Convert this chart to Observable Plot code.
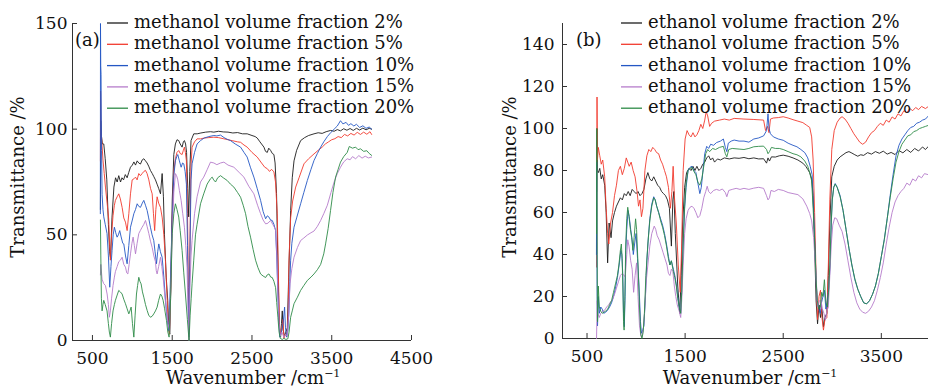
<!DOCTYPE html>
<html><head><meta charset="utf-8">
<script src="https://cdn.jsdelivr.net/npm/d3@7"></script>
<script src="https://cdn.jsdelivr.net/npm/@observablehq/plot@0.6"></script>
<style>
body{margin:0;background:#fff;}
#wrap{display:flex;width:928px;height:391px;overflow:hidden;background:#fff;}
</style></head><body><div id="wrap"></div>
<script>
// ---- Panel (a): methanol ----
const methanolLabels = ["methanol volume fraction 2%","methanol volume fraction 5%","methanol volume fraction 10%","methanol volume fraction 15%","methanol volume fraction 20%"];
const m2 = [[600,62],[604,104],[612,97],[625,93],[642,93],[660,86],[680,76],[700,55],[715,42],[727,39],[745,58],[769,72.6],[790,77],[810,75],[830,78],[852,75],[870,77],[890,76],[912,78.5],[935,77],[955,79.5],[977,82],[1000,83],[1020,84.5],[1040,83],[1061,85],[1080,84],[1102,83.5],[1125,85.5],[1145,86],[1165,85],[1185,84],[1205,82.5],[1227,80.5],[1250,79],[1270,77.5],[1290,76],[1310,74],[1330,72],[1353,69.4],[1374,79],[1390,68],[1403,50],[1425,30],[1444,19],[1458,5],[1470,3],[1485,30],[1500,66],[1520,88],[1540,93],[1560,95],[1582,94.6],[1600,93],[1624,91.5],[1640,94],[1653,94.6],[1668,93],[1680,89],[1695,72],[1707,58.5],[1720,80],[1736,94.6],[1770,97.8],[1813,97.8],[1860,98.2],[1920,98.6],[1980,98.8],[2022,98.6],[2080,99],[2140,98.7],[2200,98.6],[2260,98.2],[2320,98.4],[2380,97.8],[2440,97.8],[2500,97],[2540,96.5],[2566,95.8],[2600,94],[2630,92.5],[2650,91.5],[2670,89.5],[2692,89],[2710,91],[2733,90],[2755,88.5],[2775,88],[2790,84],[2808,69.5],[2823,40],[2838,14],[2850,3],[2859,1.6],[2870,8],[2880,14],[2890,5],[2909,2],[2925,4],[2943,6],[2960,30],[2985,61.5],[3005,77],[3027,85],[3060,90],[3110,94.6],[3160,96],[3210,97],[3278,97.8],[3330,98.3],[3380,98],[3430,98.8],[3487,99.4],[3530,99],[3570,99.8],[3610,99.2],[3650,100.2],[3690,99.5],[3730,100.3],[3770,99.4],[3810,100.4],[3850,99.6],[3890,100.5],[3930,99.7],[3970,100.4],[4000,100]];
const m5 = [[600,85],[602,118],[608,100],[621,92],[633,85],[648,79],[663,72.6],[684,65],[704,57.5],[715,45],[725,38],[740,50],[758,59],[775,64],[788,66.3],[810,68],[830,69.4],[850,67],[872,63],[893,58],[914,56],[935,52],[956,60],[977,69.4],[998,76],[1020,76.5],[1040,77.3],[1060,76],[1081,79],[1102,78],[1123,79],[1145,80],[1165,80.5],[1185,79],[1207,76],[1228,72],[1249,69.4],[1265,60],[1280,52],[1295,62],[1311,68],[1330,65],[1353,63],[1375,58],[1395,50],[1415,38],[1437,19],[1452,8],[1465,3],[1482,25],[1500,58],[1520,80],[1540,86],[1560,89],[1582,89.9],[1600,88.5],[1624,88],[1640,90],[1653,91.5],[1665,89],[1678,85],[1692,60],[1703,25],[1711,3],[1720,40],[1735,82],[1749,91.5],[1780,94],[1812,95.4],[1855,95.4],[1900,95.8],[1960,96],[2022,96.2],[2080,96],[2140,95.5],[2200,95],[2260,94.5],[2320,94],[2357,93.8],[2400,92.5],[2440,91.5],[2500,89],[2566,86.8],[2620,84],[2660,82],[2692,81.3],[2720,80],[2745,81],[2775,79.8],[2795,75],[2817,60],[2832,30],[2846,6],[2860,3],[2875,6],[2890,10],[2900,1],[2920,3],[2943,4],[2955,15],[2964,38],[2985,58],[3010,66],[3048,72.6],[3090,77],[3152,83.6],[3210,86],[3278,88.3],[3330,90],[3380,91.5],[3420,93],[3460,94],[3500,95],[3540,95.5],[3580,96.5],[3620,96],[3660,97.5],[3700,96.8],[3740,98],[3780,97.2],[3820,98.5],[3860,97.5],[3900,98.6],[3940,97.6],[3980,98.8],[4000,97.5]];
const m10 = [[599,60],[601,150],[604,130],[608,126],[614,90],[621,69],[632,62],[642,58.5],[660,55],[683,50.6],[700,40],[717,25.2],[732,35],[746,42.6],[760,50],[775,53.6],[792,51],[809,48.9],[825,50],[842,52],[860,49],[880,46],[893,45.7],[915,40],[935,36.3],[956,45],[977,53.6],[1000,57],[1019,60],[1040,62],[1061,64.7],[1080,63.5],[1102,63],[1125,65],[1144,66.3],[1165,64],[1186,61.5],[1205,58],[1227,53.6],[1248,50],[1269,47.3],[1285,42],[1303,36.3],[1318,42],[1332,45.7],[1352,42],[1374,39.4],[1395,30],[1416,19],[1437,10],[1457,4.7],[1475,25],[1500,58],[1520,78],[1540,85],[1557,87],[1570,88],[1590,85],[1612,82],[1630,84],[1645,83.6],[1662,80],[1678,74],[1692,45],[1703,15],[1711,1.6],[1722,40],[1736,76],[1749,83.6],[1780,89],[1812,93],[1855,94.6],[1900,95.8],[1960,96.5],[2022,97],[2060,96.8],[2106,97.2],[2150,96],[2190,95.2],[2231,94.6],[2290,93],[2357,91.5],[2400,89],[2440,86.8],[2480,82],[2524,77.3],[2565,72],[2608,66.3],[2640,61],[2671,57.6],[2692,59],[2713,58.4],[2733,57],[2754,56.8],[2775,55],[2796,52],[2810,40],[2825,22],[2838,8],[2850,1.6],[2870,4],[2890,8],[2909,15.8],[2920,6],[2935,1.6],[2950,5],[2964,14],[2975,28],[2985,38],[3000,46],[3027,53.6],[3060,58],[3110,64.7],[3150,70],[3194,75.7],[3240,81],[3278,85.2],[3320,88.5],[3361,91.5],[3400,94],[3445,96.5],[3490,98.5],[3530,100],[3570,101.5],[3610,104],[3640,102.5],[3680,103.2],[3710,101.8],[3740,102.6],[3777,101.5],[3810,102.3],[3850,100.8],[3890,101.6],[3930,100.4],[3970,101],[4000,100]];
const m15 = [[600,31],[605,36],[621,29],[640,27],[663,26],[684,22],[700,17],[712,11],[725,14],[740,20],[758,26],[775,30],[788,32.6],[810,35],[830,37.3],[850,38],[872,39.4],[893,36],[914,34.7],[930,32],[944,31.5],[960,36],[977,41],[995,46],[1010,48.9],[1025,45],[1040,41],[1060,46],[1081,50.6],[1100,52],[1123,53.6],[1145,55],[1165,56.8],[1185,54],[1207,50.6],[1228,47],[1249,44],[1270,40],[1290,37.3],[1300,33],[1311,31.5],[1330,35],[1353,39.4],[1370,35],[1386,29.9],[1405,22],[1428,14.2],[1448,8],[1465,4.7],[1482,25],[1500,50.6],[1520,70],[1540,79],[1555,78],[1570,76],[1590,71],[1612,66.3],[1632,60],[1653,53.6],[1670,45],[1686,34.7],[1700,12],[1711,0],[1722,25],[1736,40],[1749,47.3],[1780,60],[1812,68],[1855,75],[1895,77.3],[1940,81],[1980,84.4],[2022,84],[2060,83.2],[2106,84],[2148,84.4],[2200,83],[2273,82],[2340,79.5],[2399,77.3],[2460,73],[2524,69.4],[2570,64],[2608,60],[2640,57],[2671,55.2],[2700,55.5],[2733,56.8],[2760,55],[2796,52.6],[2812,40],[2825,22],[2840,8],[2855,2],[2875,4],[2900,1.5],[2920,3],[2943,2],[2960,12],[2977,26.8],[3000,34],[3027,39.4],[3070,44],[3110,47.3],[3150,48.5],[3194,49.9],[3240,51],[3278,51.8],[3320,54],[3361,56.8],[3400,60],[3445,64],[3490,70],[3530,75],[3570,79],[3610,82],[3650,84.5],[3694,86],[3730,85.5],[3760,87],[3800,86],[3840,87.5],[3880,86.3],[3920,87.2],[3960,86.4],[4000,86.8]];
const m20 = [[600,57],[605,40],[612,20],[621,14],[632,17],[642,19],[660,17],[683,14],[700,8],[712,4],[725,1.6],[740,8],[758,14],[775,17],[788,19],[810,21.5],[830,23.7],[850,23],[872,22],[893,19.5],[914,17.4],[935,15],[956,12.6],[970,14],[985,15.8],[1002,8],[1019,1.6],[1035,12],[1052,22],[1066,26],[1081,29.9],[1095,28],[1110,26.8],[1127,23],[1144,20.5],[1165,17],[1186,14.2],[1205,12],[1227,11],[1249,11.5],[1269,12.6],[1290,14],[1311,15.8],[1330,19],[1353,22],[1370,21],[1386,19],[1405,15],[1428,9.5],[1445,4],[1461,1.6],[1480,20],[1500,50.6],[1520,60],[1540,64.7],[1560,62],[1582,58.4],[1600,52],[1624,42.6],[1645,32],[1666,22],[1690,10],[1711,0],[1725,12],[1738,20],[1749,26.8],[1770,38],[1792,50],[1812,55],[1855,64.7],[1895,69.4],[1938,74],[1979,76.5],[2001,77.3],[2020,76],[2043,75],[2070,77],[2106,78],[2140,77],[2190,75.7],[2230,74],[2273,72.6],[2320,70],[2357,67.8],[2390,64],[2420,60],[2450,54],[2482,48.9],[2515,43],[2545,38],[2575,34.5],[2608,31.5],[2640,30.5],[2671,29.8],[2690,31],[2713,31.5],[2735,30],[2754,29.8],[2775,28],[2796,25],[2810,18],[2825,11],[2840,4],[2855,1],[2880,0.5],[2900,1],[2925,0.5],[2950,0.8],[2965,4],[2985,11],[3005,14],[3027,17.4],[3070,20.5],[3110,23.7],[3150,26],[3194,28.4],[3240,30],[3278,31.5],[3320,33.5],[3361,36],[3400,41],[3423,45.7],[3455,53],[3485,61.5],[3515,70],[3548,77.3],[3580,81],[3610,84.4],[3650,87],[3694,89],[3720,91.8],[3760,91],[3800,91.5],[3830,90.3],[3861,90.7],[3900,89.5],[3940,89.8],[3970,88.5],[4000,87.6]];

// ---- Panel (b): ethanol ----
const ethanolLabels = ["ethanol volume fraction 2%","ethanol volume fraction 5%","ethanol volume fraction 10%","ethanol volume fraction 15%","ethanol volume fraction 20%"];
const e2 = [[598,70],[602,100],[606,80],[615,79],[630,81],[645,76],[660,78],[680,73],[695,60],[710,36],[725,55],[745,48],[760,56],[780,60],[800,63],[820,65],[840,67],[860,66],[880,69],[900,68],[920,70],[940,68],[960,71],[980,70],[1000,69],[1020,70],[1040,68],[1060,69],[1080,71],[1100,76],[1120,79],[1140,76],[1160,75],[1180,77],[1200,75],[1220,73],[1240,72],[1260,70],[1280,69],[1300,68],[1320,66],[1340,62],[1360,44],[1375,66],[1385,70],[1400,50],[1425,25],[1445,12],[1460,30],[1475,55],[1495,72],[1515,79],[1540,81],[1560,80],[1580,82],[1600,80],[1620,82],[1640,80],[1660,81],[1680,83],[1700,84],[1720,86],[1740,87],[1760,85],[1780,86],[1800,84],[1830,85.5],[1860,85],[1900,86],[1950,85.5],[2000,86],[2050,85.8],[2100,86.2],[2150,85.6],[2200,86],[2250,85.5],[2300,85.6],[2330,83.5],[2345,86],[2360,84.5],[2380,86.5],[2420,86.4],[2460,87],[2500,87.3],[2550,86.8],[2600,86],[2650,85],[2700,83.5],[2730,82],[2750,80.5],[2770,79],[2790,76],[2805,68],[2820,45],[2835,18],[2850,7],[2865,16],[2880,10],[2895,14],[2910,5.5],[2925,10],[2945,12],[2960,30],[2975,55],[2995,77],[3020,82],[3050,85],[3080,86.5],[3110,87.5],[3140,88.5],[3170,89],[3200,88.3],[3230,87.5],[3260,86.8],[3290,87.5],[3320,87.2],[3360,88.5],[3400,87.8],[3440,89],[3480,88.2],[3520,89.2],[3560,87.8],[3600,88.6],[3640,87.6],[3680,89.5],[3720,88.4],[3760,90],[3800,88.6],[3840,90.5],[3880,89.3],[3920,91.2],[3950,90],[3980,91.5]];
const e5 = [[598,34],[602,115],[606,85],[615,91],[630,87],[645,83],[660,85],[680,77],[695,62],[710,50],[722,45],[740,55],[760,60],[780,68],[800,73],[820,80],[840,82],[860,78],[880,81],[900,86],[915,84],[930,82],[950,84],[970,80],[990,77],[1010,70],[1025,63],[1040,66],[1055,58],[1070,62],[1090,80],[1110,87],[1130,90],[1150,89],[1170,91],[1190,90],[1210,88.5],[1230,88],[1250,85],[1270,83],[1290,80],[1310,77],[1330,72],[1350,62],[1365,70],[1378,82],[1390,68],[1410,55],[1430,35],[1450,22],[1465,45],[1480,80],[1500,95],[1520,99],[1540,97],[1560,96],[1580,98],[1600,96],[1620,97],[1640,99],[1660,102],[1680,100],[1700,104],[1715,108],[1730,106],[1750,101],[1770,102.5],[1800,103.5],[1850,104],[1900,104.5],[1950,104],[2000,104.8],[2100,104.5],[2200,104.3],[2300,104],[2320,99],[2340,101],[2355,98],[2370,104.5],[2400,105],[2450,105.2],[2500,105.6],[2550,105],[2600,104.2],[2650,103.5],[2700,102.8],[2740,101.5],[2770,100.5],[2790,96],[2805,85],[2820,60],[2835,30],[2850,9],[2865,20],[2880,23],[2895,10],[2910,4],[2925,9],[2945,10],[2960,35],[2975,66],[2995,90],[3020,99],[3050,103],[3080,105],[3100,105.6],[3130,104.5],[3160,102.5],[3190,100],[3220,97.5],[3250,95.5],[3280,93.5],[3310,92.5],[3340,93.5],[3370,96],[3400,98],[3430,99],[3460,101],[3490,102.5],[3520,101.5],[3550,104],[3580,103],[3610,105.5],[3640,104.5],[3670,107],[3700,106],[3730,108.5],[3760,107.5],[3790,109.5],[3820,108.5],[3850,110],[3880,109],[3910,110.5],[3950,109.5],[3980,110.5]];
const e10 = [[596,40],[599,84],[603,20],[607,6],[615,20],[625,12],[640,15],[655,14],[670,12],[690,12.5],[710,13.5],[730,15],[750,17],[770,20],[790,24],[810,29],[830,36],[845,42],[855,40],[865,30],[872,12],[880,5.6],[888,20],[895,42],[905,52],[918,61],[930,58],[945,52],[960,47],[972,40],[985,45],[1000,50],[1015,38],[1030,25],[1045,8],[1055,2.5],[1068,4],[1080,6],[1095,20],[1110,37],[1125,48],[1140,57],[1160,64],[1180,67.5],[1195,66],[1210,63],[1230,60],[1250,57],[1270,54],[1290,50],[1310,45],[1330,39],[1345,35],[1360,37],[1380,33],[1395,30],[1410,26],[1425,20],[1440,15],[1455,12],[1465,22],[1480,45],[1495,62],[1510,72],[1530,80],[1550,81.5],[1570,82],[1590,80],[1610,79],[1630,74],[1650,69],[1665,72],[1680,79],[1700,88],[1720,91.5],[1740,90.5],[1760,92.5],[1790,92],[1820,93.3],[1860,94],[1890,95],[1910,91],[1925,89],[1940,93],[1970,94],[2000,94.5],[2050,94],[2100,94],[2150,93.5],[2200,95],[2250,95.5],[2300,96.5],[2330,99],[2345,107],[2355,100],[2370,97.5],[2400,96],[2450,95],[2500,94.4],[2550,93],[2600,92],[2640,91.3],[2680,90],[2720,88.5],[2750,86],[2775,82],[2795,78],[2810,60],[2820,48],[2835,28],[2845,18],[2860,15],[2878,12],[2890,17],[2905,20],[2920,23],[2935,14],[2950,18],[2965,24],[2978,35],[2990,55],[3000,66],[3015,72],[3030,73.8],[3050,72],[3080,68],[3110,61],[3140,52],[3170,43],[3200,35],[3230,28],[3260,23.5],[3290,20],[3320,17],[3350,16.5],[3380,18],[3410,21],[3440,25],[3470,31],[3500,39],[3530,47],[3560,57],[3590,68],[3620,78],[3650,87],[3680,92],[3710,95],[3740,97],[3770,99],[3800,100.5],[3830,101],[3860,102.5],[3890,103],[3920,104],[3950,104.5],[3980,106]];
const e15 = [[597,0],[600,8],[604,18],[610,12],[625,10],[640,12],[660,13],[680,13.5],[700,15],[720,16],[740,17.5],[760,18.5],[780,21],[800,24],[820,27],[840,30],[860,31],[875,30],[890,29.5],[905,40],[915,47],[928,44],[945,37],[960,33],[975,22],[990,30],[1005,36],[1020,20],[1035,6],[1050,1],[1062,1],[1075,5],[1090,15],[1105,28],[1120,35],[1140,44],[1160,50],[1185,53.5],[1200,52],[1215,49],[1235,47],[1255,44],[1275,41],[1295,38],[1315,35],[1330,31],[1345,30],[1360,33],[1375,32],[1390,25],[1405,20],[1420,16],[1440,13],[1455,10],[1465,18],[1480,35],[1495,50],[1510,57],[1530,61],[1550,62.5],[1570,63],[1590,62],[1610,60],[1630,57.5],[1650,58.5],[1670,62],[1690,67],[1710,70],[1725,72.5],[1740,70],[1760,69],[1790,70.5],[1820,71],[1850,70.5],[1880,71.2],[1910,69.5],[1925,67.5],[1945,70.5],[1980,71],[2020,71.5],[2060,71],[2100,71.5],[2150,71],[2200,71.6],[2250,72],[2300,71.5],[2330,68],[2345,66],[2360,67],[2375,70.5],[2410,70],[2450,71],[2500,70.5],[2550,69.5],[2600,69],[2650,68.5],[2700,66.5],[2740,63],[2770,59.5],[2790,56],[2810,48],[2825,37],[2840,25],[2852,15],[2868,18],[2885,18],[2900,14],[2915,12],[2930,8.7],[2945,13],[2960,15],[2975,30],[2990,45],[3005,54],[3025,57.5],[3045,57],[3070,54],[3100,51],[3130,45],[3160,37],[3190,29],[3220,22],[3250,17],[3280,14],[3310,12.5],[3340,12],[3370,13],[3400,15],[3430,18],[3460,23],[3490,29],[3520,36],[3550,45],[3580,53],[3610,60],[3640,65],[3670,68],[3700,70],[3730,71.5],[3760,74],[3790,73],[3820,76],[3850,75],[3880,77.5],[3910,76.5],[3940,78.5],[3980,78]];
const e20 = [[597,50],[600,100],[603,40],[607,8],[615,25],[625,15],[640,13],[655,12],[670,12.5],[690,13],[710,14],[730,16],[750,18],[770,22],[790,26],[810,30],[825,35],[840,42],[850,45],[858,38],[865,25],[872,8],[878,4],[885,18],[895,45],[905,57],[915,62.5],[928,58],[942,52],[955,48],[968,42],[980,48],[995,57],[1005,52],[1020,35],[1035,15],[1048,2],[1060,0],[1072,3],[1085,12],[1100,30],[1120,45],[1140,56],[1160,63],[1180,67],[1195,66],[1210,63],[1230,60],[1250,56],[1270,53],[1290,49],[1310,44],[1330,38],[1345,35],[1360,37],[1380,32],[1395,29],[1410,25],[1425,19],[1440,15],[1455,12],[1465,22],[1480,45],[1495,63],[1510,74],[1530,80],[1550,81],[1570,81.5],[1590,79.5],[1610,78],[1630,74.5],[1650,73],[1670,76],[1690,82],[1710,88],[1730,90],[1750,89],[1780,90.5],[1810,90],[1850,91],[1890,91.5],[1910,88],[1925,86.5],[1945,90],[1980,90.5],[2050,90.2],[2100,90],[2150,90.5],[2200,91.3],[2250,91.5],[2300,91.6],[2330,90],[2345,88],[2360,89],[2380,91],[2420,90.5],[2460,90.5],[2500,90],[2550,89],[2600,88],[2640,87.5],[2680,86.5],[2720,84.5],[2750,82],[2770,79],[2790,75],[2805,62],[2820,47],[2835,28],[2848,18],[2862,14],[2878,15],[2892,22],[2905,20],[2920,28],[2935,17],[2950,15],[2962,22],[2975,35],[2990,56],[3000,66],[3015,72],[3030,73.5],[3050,72],[3080,67.5],[3110,61],[3140,52],[3170,43],[3200,35],[3230,28.5],[3260,23.5],[3290,20],[3320,17],[3350,16.5],[3380,18],[3410,21],[3440,25],[3470,31],[3500,39],[3530,47],[3560,57],[3590,67],[3620,76],[3650,84],[3680,89],[3710,92.5],[3740,94.5],[3770,96.5],[3800,97],[3830,98.5],[3860,99],[3890,100],[3920,100.5],[3950,101],[3980,101.5]];

const xTicksA = [500,1500,2500,3500,4500];
const yTicksA = [0,50,100,150];
const xTicksB = [500,1500,2500,3500];
const yTicksB = [0,20,40,60,80,100,120,140];
const seriesColors = ["#1c1c1c","#f23a2e","#2457c4","#b67ccb","#2e8b47"];

function panel(cfg) {
  const H = 391;
  const plotW = cfg.width - cfg.ml - cfg.mr;
  const plotH = H - cfg.mt - cfg.mb;
  const marks = [
    Plot.ruleY([0], {stroke: "#333", strokeWidth: 1}),
    Plot.ruleX([cfg.xDomain[0]], {y1: 0, y2: 150, stroke: "#333", strokeWidth: 1}),
    Plot.tickX(cfg.xTicks, {x: d => d, insetTop: plotH - 5, stroke: "#333"}),
    Plot.tickY(cfg.yTicks, {y: d => d, insetRight: plotW - 5, stroke: "#333"}),
    Plot.axisX({ticks: cfg.xTicks, tickSize: 0, tickPadding: 11, label: null, tickFormat: d => String(d), fill: "#111"}),
    Plot.axisY({ticks: cfg.yTicks, tickSize: 0, tickPadding: cfg.ypad, label: null, tickFormat: d => String(d), fill: "#111"})
  ];
  cfg.series.forEach((s, i) => {
    marks.push(Plot.line(s, {x: d => d[0], y: d => d[1], stroke: seriesColors[i], strokeWidth: 0.9, curve: "linear"}));
  });
  const svg = Plot.plot({
    width: cfg.width, height: H,
    marginLeft: cfg.ml, marginRight: cfg.mr, marginTop: cfg.mt, marginBottom: cfg.mb,
    x: {domain: cfg.xDomain}, y: {domain: [0, 150]},
    style: {fontFamily: "DejaVu Serif", fontSize: "17px", background: "white", color: "#111"},
    marks
  });
  const s = d3.select(svg);
  const g = s.append("g").attr("font-family", "DejaVu Serif").attr("fill", "#111");
  // panel tag
  g.append("text").attr("x", cfg.tagX).attr("y", 46).attr("font-size", 18).attr("text-anchor", "start").text(cfg.tag);
  // legend
  cfg.labels.forEach((lab, i) => {
    const yb = 28 + i * 21.3;
    g.append("line").attr("x1", cfg.legX).attr("x2", cfg.legX + 21).attr("y1", yb - 5).attr("y2", yb - 5)
      .attr("stroke", seriesColors[i]).attr("stroke-width", 1.3);
    g.append("text").attr("x", cfg.legX + 27).attr("y", yb).attr("font-size", 18).attr("text-anchor", "start").text(lab);
  });
  // y title
  g.append("text").attr("transform", `translate(${cfg.yTitleX},177) rotate(-90)`).attr("text-anchor", "middle")
    .attr("font-size", 18).text("Transmittance /%");
  // x title
  const xt = g.append("text").attr("x", cfg.xTitleX).attr("y", 384).attr("text-anchor", "middle")
    .attr("font-size", 18);
  xt.append("tspan").text("Wavenumber /cm");
  xt.append("tspan").attr("dy", -7).attr("font-size", 11).text("−1");
  return svg;
}

const wrap = document.getElementById("wrap");
wrap.appendChild(panel({
  width: 464, ml: 72, mr: 53, mt: 23, mb: 51, ypad: 5,
  xDomain: [250, 4500], xTicks: xTicksA, yTicks: yTicksA,
  series: [m2, m5, m10, m15, m20], labels: methanolLabels,
  tag: "(a)", tagX: 75, legX: 107, yTitleX: 24, xTitleX: 253
}));
wrap.appendChild(panel({
  width: 464, ml: 98, mr: 0, mt: 23, mb: 53, ypad: 8,
  xDomain: [250, 3981], xTicks: xTicksB, yTicks: yTicksB,
  series: [e2, e5, e10, e15, e20], labels: ethanolLabels,
  tag: "(b)", tagX: 112, legX: 157, yTitleX: 52, xTitleX: 286
}));
</script>
</body></html>
